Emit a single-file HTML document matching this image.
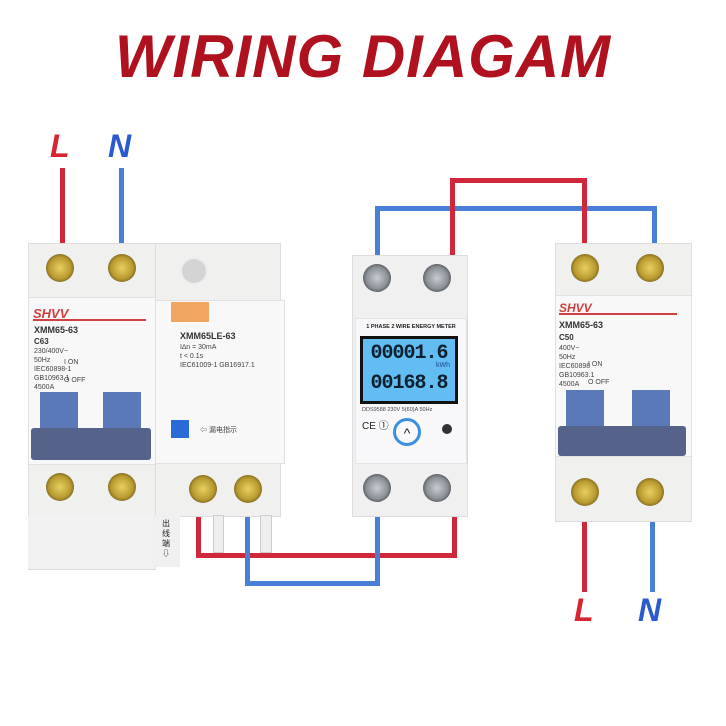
<!DOCTYPE html>
<html><head><meta charset="utf-8"><style>
body{margin:0;width:726px;height:726px;background:#fff;position:relative;overflow:hidden;font-family:"Liberation Sans","Noto Sans CJK SC",sans-serif}
.a{position:absolute}
.r{position:absolute;background:#d0283a}
.b{position:absolute;background:#4a7fd8}
.scr{position:absolute;width:28px;height:28px;border-radius:50%;background:radial-gradient(circle,#e8d060 0,#b89a30 55%,#7a6520 75%,#eee 80%);}
.scs{position:absolute;width:28px;height:28px;border-radius:50%;background:radial-gradient(circle,#c8ccd0 0,#8a9098 55%,#555 75%,#eee 80%);}
.sw{position:absolute;background:#5b78b8}
.bar{position:absolute;background:#55638a;border-radius:3px}
.t{position:absolute;font-size:7px;color:#444;line-height:9px}
</style></head><body>
<div class="a" style="left:0;top:22px;width:726px;text-align:center;font-size:60px;font-weight:bold;font-style:italic;color:#b0111f;letter-spacing:1px">WIRING DIAGAM</div>
<div class="a" style="left:50px;top:128px;font-size:32px;font-weight:bold;font-style:italic;color:#d8242f">L</div>
<div class="a" style="left:108px;top:128px;font-size:32px;font-weight:bold;font-style:italic;color:#2a5ad0">N</div>
<div class="a" style="left:574px;top:592px;font-size:32px;font-weight:bold;font-style:italic;color:#d8242f">L</div>
<div class="a" style="left:638px;top:592px;font-size:32px;font-weight:bold;font-style:italic;color:#2a5ad0">N</div>
<!-- wires -->
<div class="r" style="left:60px;top:168px;width:5px;height:80px"></div>
<div class="b" style="left:119px;top:168px;width:5px;height:80px"></div>
<div class="b" style="left:375px;top:206px;width:5px;height:52px"></div>
<div class="b" style="left:375px;top:206px;width:282px;height:5px"></div>
<div class="b" style="left:652px;top:206px;width:5px;height:44px"></div>
<div class="r" style="left:450px;top:178px;width:5px;height:80px"></div>
<div class="r" style="left:450px;top:178px;width:137px;height:5px"></div>
<div class="r" style="left:582px;top:178px;width:5px;height:70px"></div>
<div class="r" style="left:196px;top:510px;width:5px;height:48px"></div>
<div class="r" style="left:196px;top:553px;width:260px;height:5px"></div>
<div class="r" style="left:452px;top:500px;width:5px;height:58px"></div>
<div class="b" style="left:245px;top:510px;width:5px;height:76px"></div>
<div class="b" style="left:245px;top:581px;width:135px;height:5px"></div>
<div class="b" style="left:375px;top:500px;width:5px;height:86px"></div>
<div class="r" style="left:582px;top:510px;width:5px;height:82px"></div>
<div class="b" style="left:650px;top:510px;width:5px;height:82px"></div>
<!-- left breaker -->
<div class="a" style="left:28px;top:243px;width:126px;height:325px;background:#f0f0ee;border:1px solid #ddd"></div>
<div class="a" style="left:28px;top:297px;width:126px;height:166px;background:#f8f8f8;border:1px solid #e0e0e0"></div>
<div class="scr" style="left:46px;top:254px"></div><div class="scr" style="left:108px;top:254px"></div>
<div class="a" style="left:33px;top:306px;font-size:13px;font-weight:bold;font-style:italic;color:#d04040">SHVV</div>
<div class="a" style="left:33px;top:319px;width:113px;height:2px;background:#d04040"></div>
<div class="a" style="left:34px;top:325px;font-size:9px;font-weight:bold;color:#333">XMM65-63</div>
<div class="a" style="left:34px;top:337px;font-size:8px;font-weight:bold;color:#333">C63</div>
<div class="t" style="left:34px;top:347px">230/400V~<br>50Hz<br>IEC60898-1<br>GB10963.1<br>4500A</div>
<div class="t" style="left:64px;top:358px">I ON<br><br>O OFF</div>
<div class="sw" style="left:40px;top:392px;width:38px;height:40px"></div>
<div class="sw" style="left:103px;top:392px;width:38px;height:40px"></div>
<div class="bar" style="left:31px;top:428px;width:120px;height:32px"></div>
<div class="scr" style="left:46px;top:473px"></div><div class="scr" style="left:108px;top:473px"></div>
<div class="a" style="left:28px;top:515px;width:126px;height:53px;background:#f2f2f2"></div>
<!-- RCD -->
<div class="a" style="left:155px;top:243px;width:124px;height:272px;background:#f0f0ee;border:1px solid #ddd"></div>
<div class="a" style="left:155px;top:300px;width:128px;height:162px;background:#f8f8f8;border:1px solid #e0e0e0"></div>
<div class="a" style="left:180px;top:257px;width:24px;height:24px;border-radius:50%;background:#d4d4d4;border:2px solid #eee"></div>
<div class="a" style="left:171px;top:302px;width:38px;height:20px;background:#eea660"></div>
<div class="a" style="left:180px;top:331px;font-size:9px;font-weight:bold;color:#333">XMM65LE-63</div>
<div class="t" style="left:180px;top:343px">I∆n = 30mA<br>t &lt; 0.1s<br>IEC61009-1 GB16917.1</div>
<div class="a" style="left:171px;top:420px;width:18px;height:18px;background:#2a6ad8"></div>
<div class="t" style="left:200px;top:426px">⇦ 漏电指示</div>
<div class="scr" style="left:189px;top:475px"></div><div class="scr" style="left:234px;top:475px"></div>
<div class="a" style="left:152px;top:515px;width:28px;height:52px;background:#f0f0f0;font-size:8px;text-align:center;line-height:10px;color:#222;padding-top:4px;box-sizing:border-box">出<br>线<br>端<br>⇩</div>
<div class="a" style="left:213px;top:515px;width:9px;height:36px;background:#eee;border:1px solid #ccc"></div>
<div class="a" style="left:260px;top:515px;width:10px;height:36px;background:#eee;border:1px solid #ccc"></div>
<!-- meter -->
<div class="a" style="left:352px;top:255px;width:114px;height:260px;background:#f0f0f0;border:1px solid #ddd"></div>
<div class="a" style="left:355px;top:318px;width:110px;height:144px;background:#f8f8fa;border:1px solid #e4e4e4"></div>
<div class="scs" style="left:363px;top:264px"></div><div class="scs" style="left:423px;top:264px"></div>
<div class="a" style="left:358px;top:324px;font-size:5.5px;font-weight:bold;color:#222;width:106px;text-align:center">1 PHASE 2 WIRE ENERGY METER</div>
<div class="a" style="left:360px;top:336px;width:98px;height:68px;background:#111;"></div>
<div class="a" style="left:363px;top:339px;width:92px;height:62px;background:#62bdf2;font-family:'Liberation Mono',monospace;font-weight:bold;color:#0c2030;font-size:20px;line-height:30px;text-align:center;letter-spacing:-1px;overflow:hidden">00001.6<br>00168.8</div>
<div class="a" style="left:436px;top:362px;font-size:7px;color:#1a4a90">kWh</div>
<div class="t" style="left:362px;top:406px;font-size:5.5px">DDS9588 230V 5(60)A 50Hz</div>
<div class="a" style="left:362px;top:417px;font-size:10px;color:#222">CE ①</div>
<div class="a" style="left:393px;top:418px;width:22px;height:22px;border-radius:50%;border:3px solid #3a90e0;text-align:center;font-size:14px;line-height:24px;color:#222">^</div>
<div class="a" style="left:442px;top:424px;width:10px;height:10px;border-radius:50%;background:#333"></div>
<div class="scs" style="left:363px;top:474px"></div><div class="scs" style="left:423px;top:474px"></div>
<!-- right breaker -->
<div class="a" style="left:555px;top:243px;width:135px;height:277px;background:#f0f0ee;border:1px solid #ddd"></div>
<div class="a" style="left:555px;top:295px;width:135px;height:160px;background:#f8f8f8;border:1px solid #e0e0e0"></div>
<div class="scr" style="left:571px;top:254px"></div><div class="scr" style="left:636px;top:254px"></div>
<div class="a" style="left:559px;top:301px;font-size:12px;font-weight:bold;font-style:italic;color:#d04040">SHVV</div>
<div class="a" style="left:559px;top:313px;width:118px;height:2px;background:#d04040"></div>
<div class="a" style="left:559px;top:320px;font-size:9px;font-weight:bold;color:#333">XMM65-63</div>
<div class="a" style="left:559px;top:333px;font-size:8px;font-weight:bold;color:#333">C50</div>
<div class="t" style="left:559px;top:344px">400V~<br>50Hz<br>IEC60898<br>GB10963.1<br>4500A</div>
<div class="t" style="left:588px;top:360px">I ON<br><br>O OFF</div>
<div class="sw" style="left:566px;top:390px;width:38px;height:42px"></div>
<div class="sw" style="left:632px;top:390px;width:38px;height:42px"></div>
<div class="bar" style="left:558px;top:426px;width:128px;height:30px"></div>
<div class="scr" style="left:571px;top:478px"></div><div class="scr" style="left:636px;top:478px"></div>
</body></html>
